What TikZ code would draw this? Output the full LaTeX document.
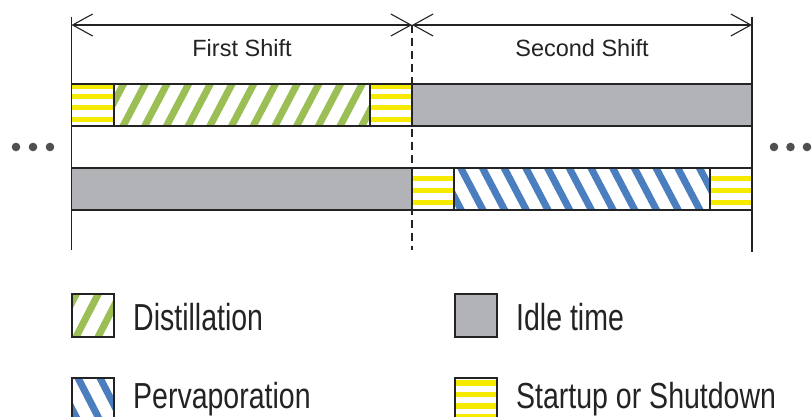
\documentclass[tikz,border=0pt]{standalone}
\usepackage{fontspec}
\setmainfont{Liberation Sans}
\usetikzlibrary{arrows.meta}
\definecolor{hgreen}{RGB}{155,190,85}
\definecolor{hblue}{RGB}{74,126,191}
\definecolor{syellow}{RGB}{246,234,0}
\definecolor{igray}{RGB}{178,179,182}
\definecolor{dotgray}{RGB}{80,80,80}
\definecolor{edge}{RGB}{35,35,35}
\tikzset{
  frame/.style={draw=edge, line width=1.2pt},
  guide/.style={draw=edge, line width=1.1pt},
  dim/.style={draw=edge, line width=1.1pt, {Straight Barb[length=20pt,width=22pt]}-{Straight Barb[length=20pt,width=22pt]}},
  dotmark/.style={fill=dotgray},
  shiftlabel/.style={font=\fontsize{23.5}{28}\selectfont, anchor=base, inner sep=0pt, text=edge},
  leglabel/.style={anchor=base west, inner sep=0pt, text=edge},
}
\newcommand\legtext[1]{\scalebox{1}[1.32]{\fontsize{28.5}{30}\selectfont #1}}
\newcommand\legtextlow[1]{\scalebox{1}[1.27]{\fontsize{28.5}{30}\selectfont #1}}
\begin{document}
\begin{tikzpicture}[x=1pt,y=-1pt]
\clip (0,0) rectangle (812,417);
\fill[white] (0,0) rectangle (812,417);

% ---------- vertical guides ----------
\coordinate (LT) at (71.5,17);  \coordinate (LB) at (71.5,250);
\coordinate (RT) at (752,17);   \coordinate (RB) at (752,252);
\coordinate (L) at (71.5,25); \coordinate (M) at (412,25); \coordinate (R) at (752,25);
\coordinate (MB) at (412,250);
\draw[guide] (LT) -- (LB);
\draw[guide] (RT) -- (RB);
\draw[guide, dash pattern=on 8pt off 5pt] (M) -- (MB);
\draw[dim] (L) -- (M);
\draw[dim] (M) -- (R);
\node[shiftlabel] (first) at (242,57) {First Shift};
\node[shiftlabel] (second) at (582,57) {Second Shift};

% ---------- row 1 ----------
\fill[white] (71.5,84) rectangle (752,126);
\foreach \t in {84.5,94.5,105.5,117.5} \fill[syellow] (71.5,\t) rectangle (114,\t+5);
\foreach \t in {84.5,94.5,105.5,117.5} \fill[syellow] (370,\t) rectangle (412,\t+5);
\begin{scope}
  \clip (114,84) rectangle (370,126);
  \foreach \k in {0,...,13} \draw[hgreen, line width=7pt] ({99.3+\k*21.7},130) -- ++(26.3,-50);
\end{scope}
\fill[igray] (412,84) rectangle (752,126);
\draw[frame] (71.5,84) rectangle (752,126);
\draw[frame] (114,84) -- (114,126);
\draw[frame] (370,84) -- (370,126);
\draw[frame] (412,84) -- (412,126);

% ---------- row 2 ----------
\fill[white] (71.5,168) rectangle (752,210);
\fill[igray] (71.5,168) rectangle (412,210);
\foreach \t in {176,188,200} \fill[syellow] (412,\t) rectangle (454,\t+5);
\foreach \t in {176,188,200} \fill[syellow] (710,\t) rectangle (752,\t+5);
\begin{scope}
  \clip (454,168) rectangle (710,210);
  \foreach \k in {0,...,14} \draw[hblue, line width=7pt] ({415.3+\k*21.7},164) -- ++(26.3,50);
\end{scope}
\draw[frame] (71.5,168) rectangle (752,210);
\draw[frame] (412,168) -- (412,210);
\draw[frame] (454,168) -- (454,210);
\draw[frame] (710,168) -- (710,210);

% ---------- dots ----------
\foreach \x in {16,33,50,774,790.5,807} \fill[dotmark] (\x,147) circle (4.3);

% ---------- legend ----------
\begin{scope}
  \clip (72,294) rectangle (114,337);
  \foreach \k in {0,...,4} \draw[hgreen, line width=7pt] ({52+\k*22},341) -- ++(26.3,-51);
\end{scope}
\draw[frame] (72,294) rectangle (114,337);
\node[leglabel] (ldist) at (133,330) {\legtext{Distillation}};

\fill[igray] (455,294) rectangle (497,337);
\draw[frame] (455,294) rectangle (497,337);
\node[leglabel] (lidle) at (516,330) {\legtext{Idle time}};

\begin{scope}
  \clip (72,378) rectangle (114,421);
  \foreach \k in {0,...,4} \draw[hblue, line width=7pt] ({32+\k*22},374) -- ++(26.3,51);
\end{scope}
\draw[frame] (72,378) rectangle (114,421);
\node[leglabel] (lperv) at (133,408.5) {\legtextlow{Pervaporation}};

\foreach \t in {380,391.5,403,414} \fill[syellow] (455,\t) rectangle (497,\t+5.5);
\draw[frame] (455,378) rectangle (497,421);
\node[leglabel] (lstart) at (516,408.5) {\legtextlow{Startup or Shutdown}};
\end{tikzpicture}
\end{document}
